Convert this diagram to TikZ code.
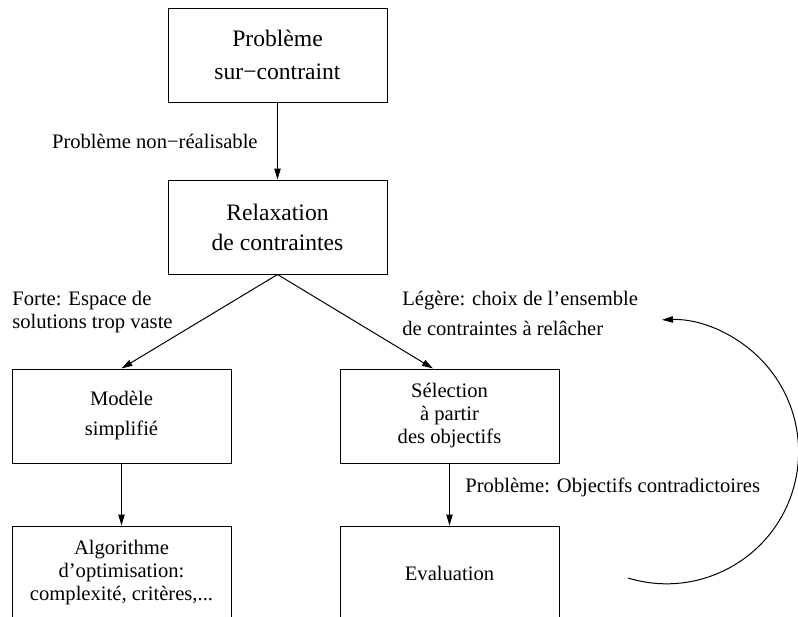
\documentclass[tikz,border=0pt]{standalone}
\usepackage{fontspec}
\setmainfont{Liberation Serif}
\usetikzlibrary{positioning,arrows.meta}

\begin{document}
\begin{tikzpicture}[x=0.5pt,y=0.5pt,
			box/.style={draw,line width=0.5pt,rectangle,minimum width=109.5pt,minimum height=47pt,inner sep=0pt,align=center,font=\fontsize{10.3}{11.5}\selectfont},
			bigbox/.style={box,font=\fontsize{11.8}{15}\selectfont},
			lbl/.style={inner sep=0pt,align=left,font=\fontsize{10.3}{11.5}\selectfont},
			arr/.style={line width=0.5pt,-{Triangle[length=5.5pt,width=3.2pt]}}]
			\useasboundingbox (0,0) rectangle (798,-616);
			\node (pb) [bigbox] at (277.5,-55) {Problème\\[1.5pt]sur−contraint};
			\node (relax) [bigbox,below=38.5pt of pb] {Relaxation\\de contraintes};
			\node (modele) [box,below=47pt of relax,xshift=-78pt] {Modèle\\[3.5pt]simplifié};
			\node (select) [box,below=47pt of relax,xshift=86pt] {Sélection\\à partir\\des objectifs};
			\node (algo) [box,below=31pt of modele] {Algorithme\\d'optimisation:\\complexité, critères,...};
			\node (eval) [box,below=31pt of select] {Evaluation};
			\node (nonreal) [lbl,anchor=base east] at (258,-148) {Problème non−réalisable};
			\node (forte) [lbl,anchor=base west] at (12,-328) {Forte: Espace de\\solutions trop vaste};
			\node (legere) [lbl,anchor=base west] at (402,-335) {Légère: choix de l'ensemble\\[3.5pt]de contraintes à relâcher};
			\node (contra) [lbl,anchor=base west] at (465,-492) {Problème: Objectifs contradictoires};
			\draw[arr] (pb) -- (relax);
			\draw[arr] (relax.south) -- (modele.north);
			\draw[arr] (relax.south) -- ([xshift=-8.25pt]select.north);
			\draw[arr] (modele) -- (algo);
			\draw[arr] (select) -- (eval);
			\coordinate (loopstart) at (628,-578);
			\draw[arr] (loopstart) arc[start angle=-107,end angle=92,radius=132];
		\end{tikzpicture}
\end{document}
